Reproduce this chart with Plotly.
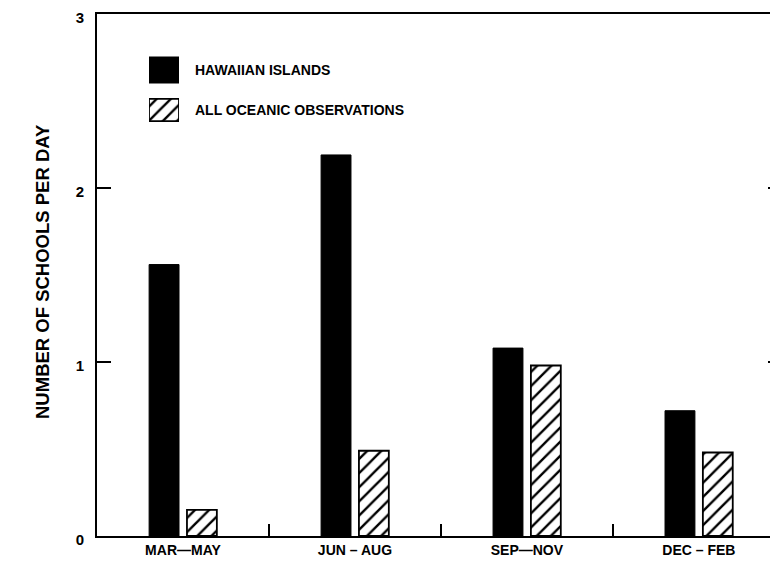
import plotly.graph_objects as go

seasons = ["MAR—MAY", "JUN – AUG", "SEP—NOV", "DEC – FEB"]
hawaiian = [1.56, 2.19, 1.08, 0.72]
oceanic = [0.15, 0.49, 0.98, 0.48]
series_names = ["HAWAIIAN ISLANDS", "ALL OCEANIC OBSERVATIONS"]
y_ticks = [0, 1, 2, 3]
y_title = "NUMBER OF SCHOOLS PER DAY"

# the page body has an 8px default margin; compensate so the window matches
OFF = 8
WIN_W, WIN_H = 778, 565
PL, PR, PT, PB = 97, 778, 14, 536  # plot area in window pixels
W, H = WIN_W - OFF, WIN_H - OFF
L, T = PL - OFF, PT - OFF
R, B = WIN_W - PR, WIN_H - PB
PW, PH = PR - PL, PB - PT

def px_x(x):
    return (x - PL) / PW

def px_y(y):
    return (PB - y) / PH

BOLD = "Liberation Sans, Arial, sans-serif"
HATCH = dict(shape="/", fgcolor="black", bgcolor="white", fgopacity=1,
             size=10, solidity=0.24)

fig = go.Figure()
fig.add_trace(go.Bar(
    x=seasons, y=hawaiian, name=series_names[0],
    marker=dict(color="black", line=dict(color="black", width=1)),
    showlegend=False,
))
fig.add_trace(go.Bar(
    x=seasons, y=oceanic, name=series_names[1],
    marker=dict(color="white", line=dict(color="black", width=1.8), pattern=HATCH),
    showlegend=False,
))

# legend swatches drawn as bars on a small hidden axis pair
fig.add_trace(go.Bar(
    x=[1], y=[1], orientation="h", width=0.65, xaxis="x2", yaxis="y2",
    marker=dict(color="black", line=dict(color="black", width=1)),
    showlegend=False, hoverinfo="skip",
))
fig.add_trace(go.Bar(
    x=[1], y=[0], orientation="h", width=0.56, xaxis="x2", yaxis="y2",
    marker=dict(color="white", line=dict(color="black", width=1.8), pattern=HATCH),
    showlegend=False, hoverinfo="skip",
))

fig.update_layout(
    width=W, height=H,
    margin=dict(l=L, r=R, t=T, b=B, pad=0, autoexpand=False),
    paper_bgcolor="white", plot_bgcolor="white",
    barmode="group", bargap=0.56, bargroupgap=0.21,
    font=dict(family=BOLD, color="black", size=13),
    xaxis=dict(
        type="category", range=[-0.5, 3.46],
        showline=True, linecolor="black", linewidth=2, mirror=True,
        ticks="inside", tickson="boundaries", ticklen=12, tickwidth=1.5, tickcolor="black",
        showgrid=False, zeroline=False, ticklabeloverflow="allow",
        tickfont=dict(family=BOLD, size=14, color="black", weight="bold"),
    ),
    yaxis=dict(
        range=[0, 3], tickvals=y_ticks, ticktext=[str(v) for v in y_ticks],
        showline=True, linecolor="black", linewidth=2,
        ticks="inside", ticklen=14, tickwidth=1.5, tickcolor="black",
        showgrid=False, zeroline=False, ticklabelstandoff=8, ticklabelshift=4,
        ticklabeloverflow="allow",
        tickfont=dict(family=BOLD, size=15, color="black", weight="bold"),
    ),
    yaxis3=dict(
        overlaying="y", side="right", anchor="x", range=[0, 3], tickvals=[1, 2],
        showticklabels=False, showline=False, showgrid=False, zeroline=False,
        ticks="inside", ticklen=10, tickwidth=1.5, tickcolor="black",
    ),
    xaxis2=dict(domain=[px_x(149), px_x(179)], range=[0, 1], anchor="y2",
                visible=False, fixedrange=True),
    yaxis2=dict(domain=[px_y(130), px_y(50)], range=[-0.5, 1.5], anchor="x2",
                visible=False, fixedrange=True),
    annotations=[
        dict(text=series_names[0], xref="paper", yref="y2", x=px_x(193), y=1,
             xanchor="left", yanchor="middle", showarrow=False,
             font=dict(family=BOLD, size=14, color="black", weight="bold")),
        dict(text=series_names[1], xref="paper", yref="y2", x=px_x(193), y=0,
             xanchor="left", yanchor="middle", showarrow=False,
             font=dict(family=BOLD, size=14, color="black", weight="bold")),
        dict(text=y_title, xref="paper", yref="paper", x=px_x(42), y=px_y(272),
             xanchor="center", yanchor="middle", textangle=-90, showarrow=False,
             font=dict(family=BOLD, size=18.5, color="black", weight="bold")),
    ],
)
# invisible trace to activate yaxis3
fig.add_trace(go.Scatter(x=[seasons[0]], y=[0], yaxis="y3", mode="markers",
                         marker=dict(opacity=0), showlegend=False, hoverinfo="skip"))

fig.write_html("out.html")
